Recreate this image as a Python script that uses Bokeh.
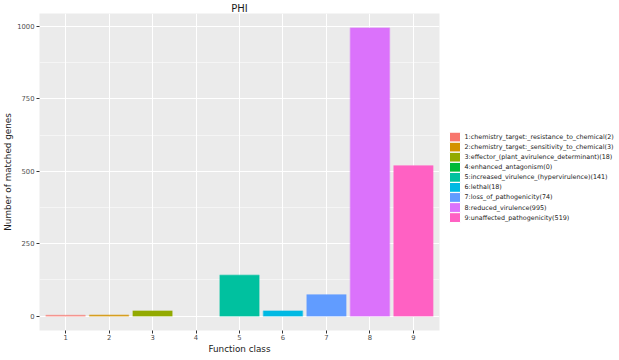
from bokeh.plotting import figure
from bokeh.layouts import row
from bokeh.models import ColumnDataSource, FixedTicker, Range1d
from bokeh.core.properties import value
from bokeh.embed import file_html
from bokeh.resources import INLINE

classes = ["1", "2", "3", "4", "5", "6", "7", "8", "9"]
counts = [2, 3, 18, 0, 141, 18, 74, 995, 519]
labels = [
    "1:chemistry_target:_resistance_to_chemical(2)",
    "2:chemistry_target:_sensitivity_to_chemical(3)",
    "3:effector_(plant_avirulence_determinant)(18)",
    "4:enhanced_antagonism(0)",
    "5:increased_virulence_(hypervirulence)(141)",
    "6:lethal(18)",
    "7:loss_of_pathogenicity(74)",
    "8:reduced_virulence(995)",
    "9:unaffected_pathogenicity(519)",
]
colors = ["#F8766D", "#D39200", "#93AA00", "#00BA38", "#00C19F",
          "#00B9E3", "#619CFF", "#DB72FB", "#FF61C3"]
y_ticks = [0, 250, 500, 750, 1000]
y_minor = [125, 375, 625, 875]

H = 356
W_MAIN, W_LEG = 443, 172

xs = list(range(1, len(classes) + 1))
ymax = max(counts)
pad = 0.05 * ymax

p = figure(width=W_MAIN, height=H, output_backend="svg", toolbar_location=None,
           x_range=Range1d(0.4, len(classes) + 0.6),
           y_range=Range1d(-pad, ymax + pad),
           min_border_left=20, min_border_right=4,
           min_border_top=4, min_border_bottom=10,
           background_fill_color="#EBEBEB", border_fill_color="white")
p.outline_line_color = None

p.title.text = "PHI"
p.title.align = "center"
p.title.text_font = "DejaVu Sans"
p.title.text_font_size = "10px"
p.title.text_font_style = "normal"
p.title.text_color = "#1A1A1A"
p.title.standoff = 0
p.title.offset = 0

line_alpha = [0.45 if c > 0 else 0 for c in counts]
src = ColumnDataSource(dict(x=xs, top=counts, color=colors, la=line_alpha))
p.vbar(x="x", top="top", bottom=0, width=0.9, source=src,
       fill_color="color", line_color="color", line_alpha="la", line_width=1.5)

# axes
p.xaxis.ticker = FixedTicker(ticks=xs)
p.xaxis.major_label_overrides = {i: c for i, c in zip(xs, classes)}
p.yaxis.ticker = FixedTicker(ticks=y_ticks, minor_ticks=y_minor)
for ax in (p.xaxis[0], p.yaxis[0]):
    ax.axis_line_color = None
    ax.major_tick_line_color = "#333333"
    ax.major_tick_out = 3
    ax.major_tick_in = 0
    ax.minor_tick_line_color = None
    ax.major_label_text_font = "DejaVu Sans"
    ax.major_label_text_font_size = "6.8px"
    ax.major_label_text_color = "#4D4D4D"
    ax.major_label_standoff = 1
    ax.axis_label_text_font = "DejaVu Sans"
    ax.axis_label_text_font_size = "8.8px"
    ax.axis_label_text_font_style = "normal"
    ax.axis_label_text_color = "#1A1A1A"
    ax.axis_label_standoff = 1
p.xaxis.axis_label = "Function class"
p.yaxis.axis_label = "Number of matched genes"

p.xgrid.grid_line_color = "white"
p.xgrid.grid_line_width = 1
p.ygrid.grid_line_color = "white"
p.ygrid.grid_line_width = 1
p.ygrid.minor_grid_line_color = "white"
p.ygrid.minor_grid_line_width = 0.5

# legend panel: a separate axis-less figure in pixel-like units
lf = figure(width=W_LEG, height=H, output_backend="svg", toolbar_location=None,
            x_range=Range1d(0, W_LEG), y_range=Range1d(0, H),
            x_axis_location=None, y_axis_location=None,
            min_border=0, border_fill_color="white", background_fill_color="white")
lf.grid.visible = False
lf.outline_line_color = None

n = len(labels)
row_h = 11.3
key = 11
x0 = 6
center_y = H - 184  # vertical centre of legend in this panel
top_y = center_y + (n - 1) * row_h / 2
key_y = [top_y - i * row_h for i in range(n)]
lsrc = ColumnDataSource(dict(x=[x0 + key / 2] * n, y=key_y, color=colors,
                             tx=[x0 + key + 4] * n, label=labels))
lf.rect(x="x", y="y", width=key, height=key, source=lsrc,
        fill_color="color", line_color="white", line_width=1)
lf.text(x="tx", y="y", text="label", source=lsrc,
        text_font=value("DejaVu Sans"), text_font_size="6.4px",
        text_color="#1A1A1A", text_baseline="middle", text_align="left")

open("out.html", "w").write(file_html(row(p, lf), INLINE))
